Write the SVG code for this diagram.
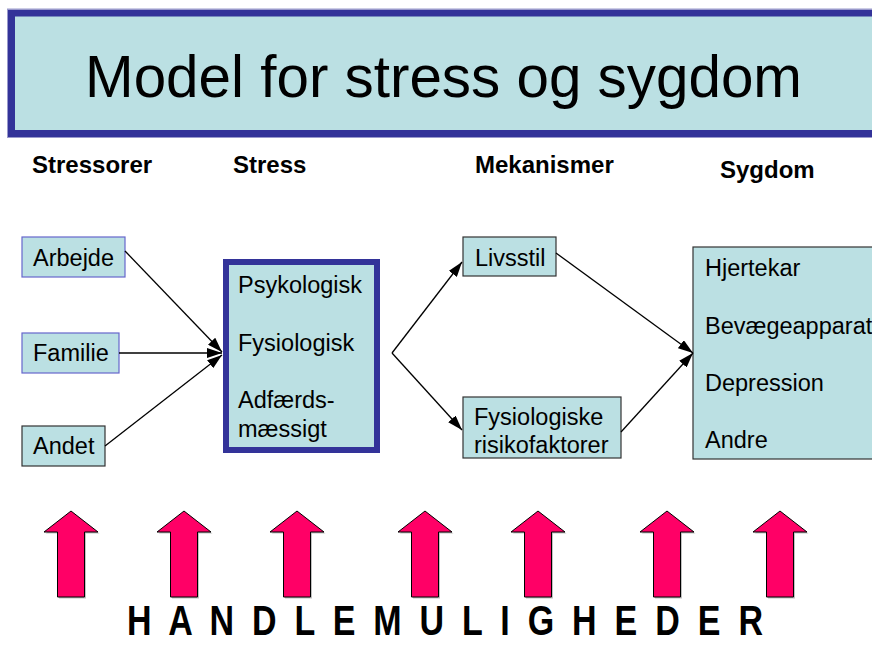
<svg xmlns="http://www.w3.org/2000/svg" width="872" height="645" viewBox="0 0 872 645">
<style>
text{font-family:"Liberation Sans",Arial,Helvetica,sans-serif;fill:#000}
.hdr{font-size:24px;font-weight:bold}
.lbl{font-size:23.5px}
.box{fill:#BBE0E3;stroke-width:1.2}
.conn line{stroke:#000;stroke-width:1.3;fill:none}
.up{fill:#FF0066;stroke:#000;stroke-width:1}
.sh{fill:#999;opacity:.6}
</style>
<defs>
<marker id="ah" viewBox="0 0 15 10" refX="15" refY="5" markerWidth="15" markerHeight="10" markerUnits="userSpaceOnUse" orient="auto">
<path d="M0,0 L15,5 L0,10 z" fill="#000"/>
</marker>
<path id="uparrow" d="M0,511 L27,532 L13.5,532 L13.5,597 L-13.5,597 L-13.5,532 L-27,532 Z"/>
</defs>
<rect width="872" height="645" fill="#fff"/>
<g id="title">
<rect x="11.5" y="13" width="880" height="120.5" fill="#BBE0E3" stroke="#333399" stroke-width="7"/>
<rect x="7.5" y="9" width="888" height="128.5" fill="none" stroke="#9999CC" stroke-width="1"/>
<text x="85" y="97" font-size="60" textLength="717" lengthAdjust="spacingAndGlyphs">Model for stress og sygdom</text>
</g>
<g id="headers">
<text class="hdr" x="32" y="173">Stressorer</text>
<text class="hdr" x="233" y="173">Stress</text>
<text class="hdr" x="475" y="173">Mekanismer</text>
<text class="hdr" x="720" y="178">Sygdom</text>
</g>
<g id="arbejde">
<rect class="box" x="22" y="237" width="103" height="40" stroke="#6666CC"/>
<text class="lbl" x="33" y="266">Arbejde</text>
</g>
<g id="familie">
<rect class="box" x="22" y="333" width="97" height="40" stroke="#6666CC"/>
<text class="lbl" x="33" y="361">Familie</text>
</g>
<g id="andet">
<rect class="box" x="22" y="426" width="83" height="40" stroke="#333"/>
<text class="lbl" x="33" y="454">Andet</text>
</g>
<g id="stress">
<rect x="226" y="262" width="151" height="188" fill="#BBE0E3" stroke="#333399" stroke-width="6"/>
<text class="lbl" x="238" y="293">Psykologisk</text>
<text class="lbl" x="238" y="351">Fysiologisk</text>
<text class="lbl" x="238" y="408">Adfærds-</text>
<text class="lbl" x="238" y="437">mæssigt</text>
</g>
<g id="livsstil">
<rect class="box" x="463" y="237" width="93" height="39" stroke="#333"/>
<text class="lbl" x="475" y="266">Livsstil</text>
</g>
<g id="fysrisiko">
<rect class="box" x="463" y="397" width="158" height="61" stroke="#333"/>
<text class="lbl" x="474" y="425">Fysiologiske</text>
<text class="lbl" x="474" y="453">risikofaktorer</text>
</g>
<g id="sygdom">
<rect class="box" x="693" y="247" width="200" height="212" stroke="#333"/>
<text class="lbl" x="705" y="276">Hjertekar</text>
<text class="lbl" x="705" y="334">Bevægeapparat</text>
<text class="lbl" x="705" y="391">Depression</text>
<text class="lbl" x="705" y="448">Andre</text>
</g>
<g id="connectors" class="conn">
<line x1="125" y1="251" x2="222" y2="352" marker-end="url(#ah)"/>
<line x1="119" y1="353" x2="222" y2="353" marker-end="url(#ah)"/>
<line x1="105" y1="446" x2="222" y2="355" marker-end="url(#ah)"/>
<line x1="392" y1="353" x2="462" y2="262" marker-end="url(#ah)"/>
<line x1="392" y1="353" x2="462" y2="430" marker-end="url(#ah)"/>
<line x1="556" y1="253" x2="693" y2="353" marker-end="url(#ah)"/>
<line x1="621" y1="432" x2="693" y2="353" marker-end="url(#ah)"/>
</g>
<g id="handlemuligheder">
<use href="#uparrow" class="sh" transform="translate(72.5,1.5)"/>
<use href="#uparrow" class="up" transform="translate(71,0)"/>
<use href="#uparrow" class="sh" transform="translate(185.5,1.5)"/>
<use href="#uparrow" class="up" transform="translate(184,0)"/>
<use href="#uparrow" class="sh" transform="translate(298.5,1.5)"/>
<use href="#uparrow" class="up" transform="translate(297,0)"/>
<use href="#uparrow" class="sh" transform="translate(426.5,1.5)"/>
<use href="#uparrow" class="up" transform="translate(425,0)"/>
<use href="#uparrow" class="sh" transform="translate(539.5,1.5)"/>
<use href="#uparrow" class="up" transform="translate(538,0)"/>
<use href="#uparrow" class="sh" transform="translate(668.5,1.5)"/>
<use href="#uparrow" class="up" transform="translate(667,0)"/>
<use href="#uparrow" class="sh" transform="translate(781.5,1.5)"/>
<use href="#uparrow" class="up" transform="translate(780,0)"/>
<text transform="translate(127,635) scale(1,1.25)" x="0" y="0" font-size="34" font-weight="bold" textLength="636" lengthAdjust="spacing">H A N D L E M U L I G H E D E R</text>
</g>
</svg>
